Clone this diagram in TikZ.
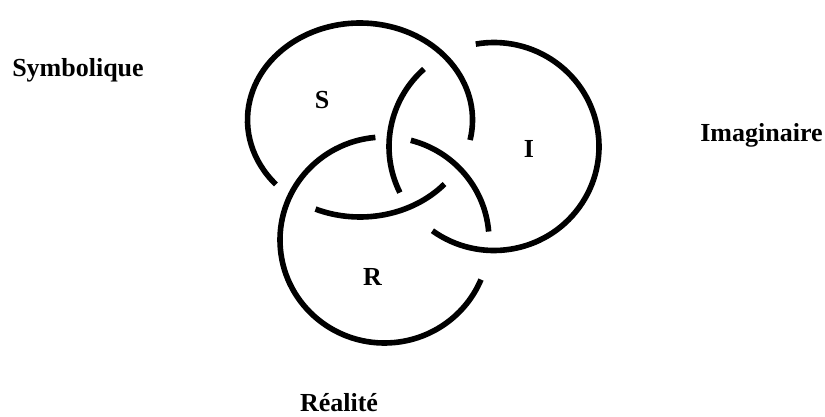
\documentclass[tikz,border=0pt]{standalone}
\usepackage{fontspec}
\setmainfont{Liberation Serif}
\begin{document}
\begin{tikzpicture}[x=1pt,y=1pt,
  ring/.style={line width=5.6pt, line cap=butt},
  lbl/.style={font=\fontsize{26}{30}\selectfont\bfseries, inner sep=0pt, anchor=base}]
\useasboundingbox (0,0) rectangle (825,416);
% ring S (ellipse)
\coordinate (cS) at (360,296);
\draw[ring] (cS) ++(-11.9:112.5 and 97) arc[start angle=-11.9, end angle=221.6, x radius=112.5, y radius=97];
\draw[ring] (cS) ++(246.7:112.5 and 97) arc[start angle=246.7, end angle=318.7, x radius=112.5, y radius=97];
% ring I
\coordinate (cI) at (494,269.5);
\draw[ring] (cI) ++(-125.9:105 and 104) arc[start angle=-125.9, end angle=100, x radius=105, y radius=104];
\draw[ring] (cI) ++(131.8:105 and 104) arc[start angle=131.8, end angle=206.3, x radius=105, y radius=104];
% ring R
\coordinate (cR) at (384.5,176);
\draw[ring] (cR) ++(95:104.5 and 103) arc[start angle=95, end angle=337.4, x radius=104.5, y radius=103];
\draw[ring] (cR) ++(4.7:104.5 and 103) arc[start angle=4.7, end angle=75.4, x radius=104.5, y radius=103];
% labels
\node[lbl] (lS) at (322,307) {S};
\node[lbl] (lI) at (529,259) {I};
\node[lbl] (lR) at (372.5,131) {R};
\node[lbl] (sym) at (78,339) {Symbolique};
\node[lbl] (ima) at (761.5,275) {Imaginaire};
\node[lbl] (rea) at (339,5) {Réalité};
\end{tikzpicture}
\end{document}
